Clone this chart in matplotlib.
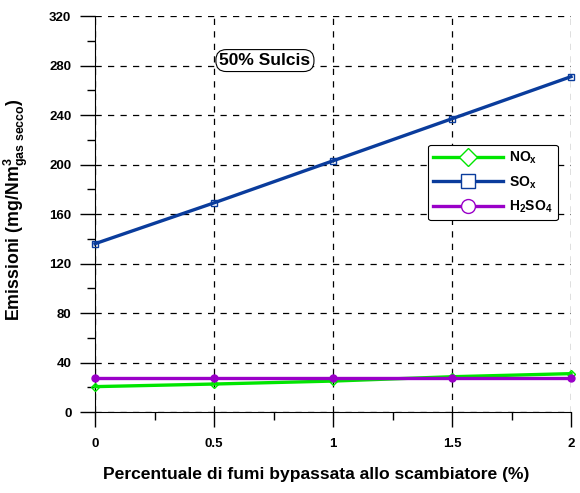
import matplotlib
matplotlib.use("Agg")
import matplotlib.pyplot as plt
from matplotlib.lines import Line2D
from matplotlib.ticker import MultipleLocator

plt.rcParams['font.family'] = ['Liberation Sans', 'DejaVu Sans']
plt.rcParams['font.weight'] = 'bold'
plt.rcParams['mathtext.fontset'] = 'custom'
plt.rcParams['mathtext.rm'] = 'Liberation Sans:bold'
plt.rcParams['mathtext.it'] = 'Liberation Sans:bold'
plt.rcParams['mathtext.bf'] = 'Liberation Sans:bold'

bypass = [0, 0.5, 1, 1.5, 2]
nox = [20.5, 22.6, 25, 28.5, 31]
sox = [136, 169, 203, 237, 271]
h2so4 = [27.2, 27.2, 27.2, 27.2, 27.2]
labels = [r'NO$_x$', r'SO$_x$', r'H$_2$SO$_4$']

green = '#00e600'
blue = '#0a3c9c'
purple = '#9a00c8'

fig = plt.figure(figsize=(5.8, 4.93), dpi=100)
ax = fig.add_axes([0.1638, 0.1643, 0.8207, 0.8032])

ax.plot(bypass, nox, color=green, lw=2.4, marker='D', ms=4, mfc='none',
        mec=green, clip_on=False, zorder=4)
ax.plot(bypass, sox, color=blue, lw=2.4, marker='s', ms=5, mfc='none',
        mec=blue, clip_on=False, zorder=4)
ax.plot(bypass, h2so4, color=purple, lw=2.4, marker='o', ms=5, mfc=purple,
        mec=purple, clip_on=False, zorder=5)

ax.set_xlim(0, 2)
ax.set_ylim(0, 320)
ax.xaxis.set_minor_locator(MultipleLocator(0.25))
ax.yaxis.set_major_locator(MultipleLocator(40))
ax.yaxis.set_minor_locator(MultipleLocator(20))
ax.set_xticks(bypass)
ax.set_xticklabels(['0', '0.5', '1', '1.5', '2'])

ax.tick_params(axis='x', which='major', length=11, width=1, direction='out', pad=8, labelsize=9.5)
ax.tick_params(axis='x', which='minor', length=6, width=1, direction='out')
ax.tick_params(axis='y', which='major', length=11, width=1, direction='out', pad=6, labelsize=9.5)
ax.tick_params(axis='y', which='minor', length=6, width=1, direction='out')

ax.spines['top'].set_visible(False)
ax.spines['right'].set_visible(False)
ax.grid(True, which='major', color='black', ls=(0, (5, 5)), lw=0.9)
ax.set_axisbelow(True)

ax.set_xlabel('Percentuale di fumi bypassata allo scambiatore (%)', fontsize=12.6,
              fontweight='bold')
ax.xaxis.set_label_coords(0.464, -0.139)
ax.set_ylabel(r'Emissioni (mg/Nm$^{3}_{gas\ secco}$)', fontsize=12.8,
              fontweight='bold')
ax.yaxis.set_label_coords(-0.137, 0.51)

ax.text(0.714, 284, '50% Sulcis', fontsize=12.5, fontweight='bold', ha='center',
        va='center', bbox=dict(boxstyle='round,pad=0.2,rounding_size=0.6',
                               fc='white', ec='black', lw=0.8))

handles = [
    Line2D([], [], color=green, lw=2.4, marker='D', ms=9, mfc='white', mec=green),
    Line2D([], [], color=blue, lw=2.4, marker='s', ms=10, mfc='white', mec=blue),
    Line2D([], [], color=purple, lw=2.4, marker='o', ms=10, mfc='white', mec=purple),
]
leg = ax.legend(handles, labels, loc='upper left', bbox_to_anchor=(0.70, 0.675),
                fontsize=10, handlelength=5.0, fancybox=True, framealpha=1,
                edgecolor='black', borderpad=0.35, labelspacing=0.6,
                handletextpad=0.5, borderaxespad=0)
leg.get_frame().set_linewidth(0.8)

fig.savefig('out.png', dpi=100)
